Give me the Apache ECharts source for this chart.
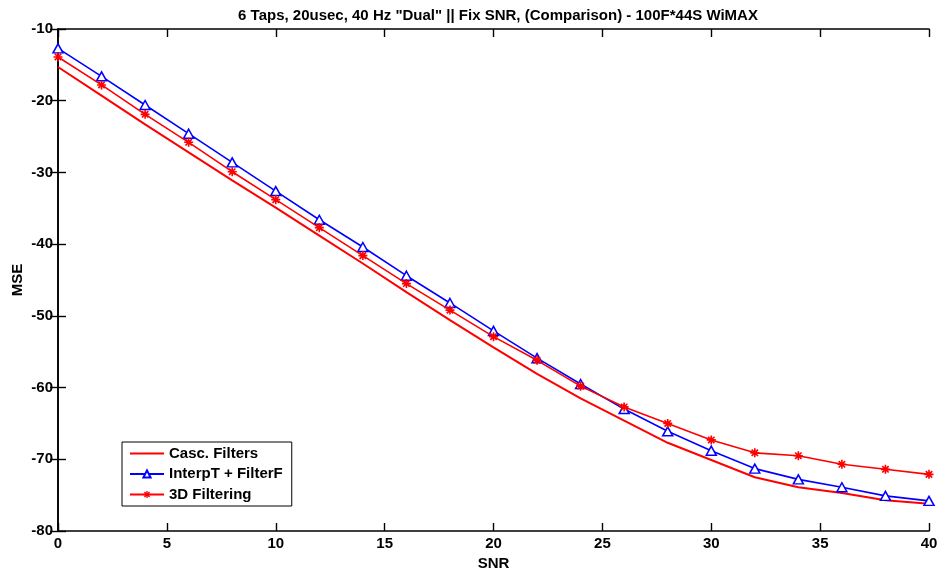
<!DOCTYPE html>
<html>
<head>
<meta charset="utf-8">
<script src="https://cdn.jsdelivr.net/npm/echarts@6/dist/echarts.min.js"></script>
<style>html,body{margin:0;padding:0;background:#fff}#c{width:941px;height:576px}</style>
</head>
<body>
<div id="c"></div>
<script>
var snr = [0,2,4,6,8,10,12,14,16,18,20,22,24,26,28,30,32,34,36,38,40];
var cascFilters = [-15.3,-19.3,-23.3,-27.2,-31.1,-34.9,-38.8,-42.7,-46.7,-50.6,-54.4,-58.1,-61.5,-64.6,-67.7,-70.1,-72.5,-73.9,-74.7,-75.7,-76.2];
var interpT = [-12.7,-16.6,-20.6,-24.6,-28.6,-32.6,-36.6,-40.4,-44.4,-48.2,-52.1,-55.9,-59.5,-63.0,-66.1,-68.8,-71.3,-72.8,-73.9,-75.1,-75.8];
var filt3D = [-13.9,-17.8,-21.9,-25.8,-29.9,-33.8,-37.7,-41.6,-45.5,-49.2,-52.9,-56.2,-59.8,-62.7,-65.0,-67.3,-69.1,-69.5,-70.7,-71.4,-72.1];
var xTicks = [0,5,10,15,20,25,30,35,40];
var yTicks = [-80,-70,-60,-50,-40,-30,-20,-10];

function pairs(xs, ys){ return xs.map(function(x,i){return [x, ys[i]];}); }

var star = 'path://M-0.9,-5L0.9,-5L0.9,5L-0.9,5Z M-5,-0.9L5,-0.9L5,0.9L-5,0.9Z M-4.2,-2.9L-2.9,-4.2L4.2,2.9L2.9,4.2Z M2.9,-4.2L4.2,-2.9L-2.9,4.2L-4.2,2.9Z';
var font = 'Liberation Sans';
var FS = 15;
var lbl = {color:'#000', fontFamily:font, fontWeight:'bold', fontSize:FS};
var axLine = {show:true, lineStyle:{color:'#000', width:1.6}};
var tick = {show:true, inside:true, length:8, lineStyle:{color:'#000', width:1.4}};
var clear = 'rgba(0,0,0,0)';

var chart = echarts.init(document.getElementById('c'), null, {renderer:'canvas'});
chart.setOption({
  animation:false,
  backgroundColor:'#fff',
  title:{text:'6 Taps, 20usec, 40 Hz "Dual" || Fix SNR, (Comparison) - 100F*44S WiMAX',
    left:493, top:3, textAlign:'center',
    textStyle:{color:'#000', fontFamily:font, fontWeight:'bold', fontSize:FS}},
  grid:{left:58, right:12, top:29, bottom:45, containLabel:false, outerBoundsMode:'none'},
  legend:{
    orient:'vertical', left:122, top:442, padding:[4,9,4,7],
    backgroundColor:'#fff', borderColor:'#000', borderWidth:1,
    icon:'inherit',
    itemWidth:34, itemHeight:9, itemGap:5.5,
    textStyle:{color:'#000', fontFamily:font, fontWeight:'bold', fontSize:FS},
    data:[
      {name:'Casc. Filters', itemStyle:{color:clear, borderColor:clear, opacity:0}},
      'InterpT + FilterF',
      '3D Filtering'
    ]
  },
  xAxis:[
    {type:'value', min:0, max:40, interval:5, position:'bottom',
      name:'SNR', nameLocation:'middle', nameGap:25,
      nameTextStyle:lbl,
      axisLine:axLine, axisTick:tick, splitLine:{show:false},
      axisLabel:Object.assign({margin:5, formatter:function(v){return xTicks.indexOf(v)>=0?String(v):'';}}, lbl)},
    {type:'value', min:0, max:40, interval:5, position:'top',
      axisLine:axLine, axisTick:tick, splitLine:{show:false}, axisLabel:{show:false}}
  ],
  yAxis:[
    {type:'value', min:-80, max:-10, interval:10, position:'left',
      name:'MSE', nameLocation:'middle', nameGap:33, nameRotate:90, nameMoveOverlap:false,
      nameTextStyle:lbl,
      axisLine:axLine, axisTick:tick, splitLine:{show:false},
      axisLabel:Object.assign({margin:5, formatter:function(v){return yTicks.indexOf(v)>=0?String(v):'';}}, lbl)},
    {type:'value', min:-80, max:-10, interval:10, position:'right',
      axisLine:axLine, axisTick:tick, splitLine:{show:false}, axisLabel:{show:false}}
  ],
  series:[
    {name:'Casc. Filters', type:'line', data:pairs(snr, cascFilters),
      showSymbol:false, symbol:'none', lineStyle:{color:'#ff0000', width:2},
      itemStyle:{color:'#ff0000'}, z:2},
    {name:'InterpT + FilterF', type:'line', data:pairs(snr, interpT),
      symbol:'triangle', symbolSize:[10,9], showSymbol:true,
      lineStyle:{color:'#0000ff', width:1.6},
      itemStyle:{color:'#fff', borderColor:'#0000ff', borderWidth:1.5}, z:3},
    {name:'3D Filtering', type:'line', data:pairs(snr, filt3D),
      symbol:star, symbolSize:9, showSymbol:true,
      lineStyle:{color:'#ff0000', width:1.6},
      itemStyle:{color:'#ff0000', borderWidth:0}, z:4}
  ]
});
</script>
</body>
</html>
